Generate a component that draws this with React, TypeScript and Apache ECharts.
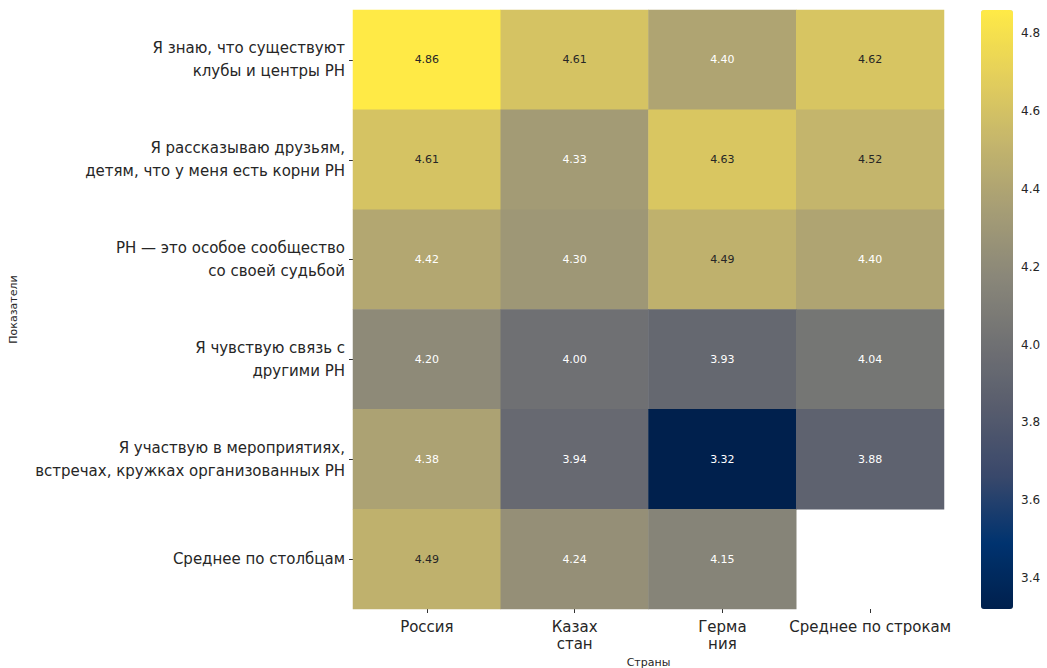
import React, { useEffect, useRef } from "react";
import * as echarts from "echarts";

const countries = ["Россия", "Казах\nстан", "Герма\nния", "Среднее по строкам"];
const indicators = [
  "Я знаю, что существуют\nклубы и центры РН",
  "Я рассказываю друзьям,\nдетям, что у меня есть корни РН",
  "РН — это особое сообщество\nсо своей судьбой",
  "Я чувствую связь с\nдругими РН",
  "Я участвую в мероприятиях,\nвстречах, кружках организованных РН",
  "Среднее по столбцам",
];
const rowKnowClubs = [4.86, 4.61, 4.4, 4.62];
const rowTellFriends = [4.61, 4.33, 4.63, 4.52];
const rowCommunity = [4.42, 4.3, 4.49, 4.4];
const rowConnection = [4.2, 4.0, 3.93, 4.04];
const rowParticipate = [4.38, 3.94, 3.32, 3.88];
const rowColumnMean = [4.49, 4.24, 4.15, null];
const rows = [rowKnowClubs, rowTellFriends, rowCommunity, rowConnection, rowParticipate, rowColumnMean];
const colorbarTicks = [3.4, 3.6, 3.8, 4.0, 4.2, 4.4, 4.6, 4.8];
const vMin = 3.32;
const vMax = 4.86;

const cividis = [
  "#00204d", "#00336f", "#39486b", "#575c6d", "#707173",
  "#8a8779", "#a69d75", "#c4b56c", "#e4cf5b", "#ffea46",
];

const FONT = "DejaVu Sans";

export default function App() {
  const ref = useRef<HTMLDivElement>(null);
  useEffect(() => {
    if (!ref.current) return;
    const chart = echarts.init(ref.current, undefined, { renderer: "svg" });
    const data: any[] = [];
    rows.forEach((r, yi) =>
      r.forEach((v, xi) => {
        if (v === null) return;
        data.push({
          value: [xi, yi, v],
          label: { color: v > 4.45 ? "#262626" : "#ffffff" },
        });
      })
    );
    chart.setOption({
      animation: false,
      textStyle: { fontFamily: FONT },
      grid: [
        { left: 353, right: 103, top: 10, bottom: 59, containLabel: false, outerBoundsMode: "none" },
        { left: 981, top: 10, width: 32, height: 599, containLabel: false, outerBoundsMode: "none" },
      ],
      xAxis: [
        {
          type: "category",
          data: countries,
          gridIndex: 0,
          name: "Страны",
          nameLocation: "middle",
          nameGap: 47,
          nameTextStyle: { fontFamily: FONT, fontSize: 11, color: "#262626" },
          axisLine: { show: false },
          axisTick: { show: true, alignWithLabel: true, length: 4, lineStyle: { color: "#333" } },
          axisLabel: { interval: 0, fontFamily: FONT, fontSize: 15, color: "#262626", margin: 9, lineHeight: 17 },
          splitLine: { show: false },
        },
        { type: "value", gridIndex: 1, show: false, min: 0, max: 1 },
      ],
      yAxis: [
        {
          type: "category",
          data: indicators,
          inverse: true,
          gridIndex: 0,
          name: "Показатели",
          nameLocation: "middle",
          nameGap: 334,
          nameRotate: 90,
          nameTextStyle: { fontFamily: FONT, fontSize: 11, color: "#262626" },
          axisLine: { show: false },
          axisTick: { show: true, alignWithLabel: true, length: 4, lineStyle: { color: "#333" } },
          axisLabel: { interval: 0, fontFamily: FONT, fontSize: 15, color: "#262626", margin: 8, lineHeight: 23, align: "right" },
          splitLine: { show: false },
        },
        {
          type: "value",
          gridIndex: 1,
          position: "right",
          min: vMin,
          max: vMax,
          axisLine: { show: false },
          splitLine: { show: false },
          axisTick: { show: true, length: 4, customValues: colorbarTicks, lineStyle: { color: "#333" } },
          axisLabel: {
            fontFamily: FONT,
            fontSize: 12,
            color: "#262626",
            margin: 8,
            customValues: colorbarTicks,
            formatter: (v: number) => v.toFixed(1),
          },
        },
      ],
      visualMap: {
        type: "continuous",
        min: vMin,
        max: vMax,
        seriesIndex: 0,
        calculable: false,
        show: true,
        left: 981,
        top: 10,
        padding: 0,
        itemWidth: 32,
        itemHeight: 599,
        text: null,
        inRange: { color: cividis },
        hoverLink: false,
      },
      series: [
        {
          type: "heatmap",
          xAxisIndex: 0,
          yAxisIndex: 0,
          data,
          label: {
            show: true,
            fontFamily: FONT,
            fontSize: 11,
            formatter: (p: any) => p.value[2].toFixed(2),
          },
          itemStyle: { borderWidth: 0 },
          emphasis: { disabled: true },
        },
      ],
    });
    return () => chart.dispose();
  }, []);
  return (
    <div
      ref={ref}
      style={{ position: "absolute", left: 0, top: 0, width: 1047, height: 668, background: "#fff" }}
    />
  );
}
